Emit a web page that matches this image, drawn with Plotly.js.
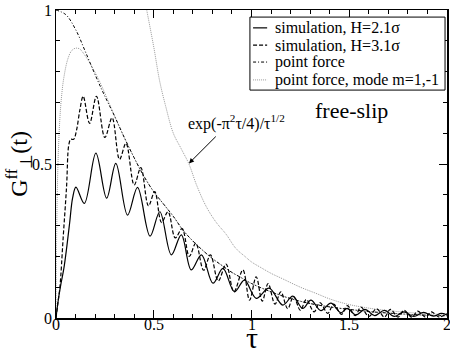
<!DOCTYPE html>
<html>
<head>
<meta charset="utf-8">
<script src="https://cdn.plot.ly/plotly-3.0.1.min.js"></script>
<style>html,body{margin:0;padding:0;background:#fff;}#chart{width:450px;height:356px;}</style>
</head>
<body>
<div id="chart"></div>
<script>
// simulation, H=2.1σ (solid)
const simA_t = [0,0.012,0.025,0.04,0.055,0.07,0.085,0.102,0.145,0.204,0.259,0.306,0.366,0.417,0.481,0.531,0.59,0.641,0.692,0.744,0.803,0.854,0.913,0.964,1.024,1.09,1.16,1.211,1.262,1.304,1.355,1.406,1.457,1.49,1.534,1.58,1.63,1.68,1.73,1.78,1.83,1.88,1.93,1.97,2.0];
const simA_g = [0,0.06,0.11,0.16,0.23,0.31,0.39,0.425,0.372,0.535,0.389,0.502,0.334,0.424,0.266,0.345,0.205,0.27,0.156,0.205,0.113,0.161,0.085,0.123,0.064,0.097,0.042,0.071,0.031,0.058,0.024,0.048,0.017,0.031,0.01,0.028,0.008,0.025,0.005,0.02,0.005,0.018,0.006,0.015,0.01];
// simulation, H=3.1σ (dashed)
const simB_t = [0,0.01,0.02,0.037,0.054,0.065,0.075,0.09,0.105,0.122,0.139,0.172,0.207,0.25,0.287,0.325,0.358,0.4,0.434,0.473,0.505,0.54,0.573,0.61,0.645,0.682,0.715,0.755,0.79,0.83,0.87,0.91,0.956,0.99,1.024,1.055,1.085,1.12,1.15,1.185,1.215,1.25,1.28,1.32,1.35,1.39,1.42,1.46,1.49,1.53,1.56,1.6,1.64,1.68,1.71,1.75,1.78,1.82,1.85,1.89,1.92,1.96,2.0];
const simB_g = [0,0.05,0.10,0.264,0.426,0.56,0.58,0.58,0.61,0.675,0.72,0.632,0.72,0.586,0.65,0.515,0.567,0.432,0.488,0.364,0.41,0.31,0.345,0.26,0.29,0.20,0.243,0.155,0.205,0.12,0.175,0.085,0.156,0.058,0.134,0.055,0.112,0.045,0.085,0.03,0.07,0.025,0.06,0.02,0.05,0.015,0.045,0.012,0.04,0.008,0.035,0.005,0.03,0.003,0.028,0.003,0.025,0.003,0.022,0.003,0.02,0.003,0.015];
// point force (dash-dot)
const pf_t = [0,0.05,0.1,0.15,0.2,0.25,0.3,0.35,0.4,0.45,0.5,0.55,0.6,0.65,0.7,0.75,0.8,0.85,0.9,0.95,1.0,1.1,1.2,1.3,1.4,1.5,1.6,1.7,1.8,1.9,2.0];
const pf_g = [1,0.985,0.937,0.865,0.79,0.72,0.655,0.585,0.52,0.46,0.41,0.37,0.33,0.285,0.25,0.22,0.193,0.17,0.148,0.13,0.112,0.085,0.063,0.047,0.036,0.028,0.021,0.016,0.012,0.009,0.007];
// point force, mode m=1,-1 (gray dotted)
const mode_t = [0,0.004,0.01,0.02,0.03,0.04,0.06,0.08,0.1,0.12,0.14,0.18,0.22,0.26,0.3,0.35,0.4,0.45,0.5,0.55,0.6,0.65,0.7,0.75,0.8,0.85,0.9,0.95,1.0,1.1,1.2,1.3,1.4,1.5,1.6,1.7,1.8,1.9,2.0];
const mode_g = [0,0.3,0.5,0.65,0.73,0.78,0.84,0.868,0.876,0.874,0.86,0.82,0.772,0.715,0.655,0.585,0.52,0.46,0.41,0.37,0.33,0.285,0.25,0.22,0.193,0.17,0.148,0.13,0.112,0.085,0.063,0.047,0.036,0.028,0.021,0.016,0.012,0.009,0.007];
// exp(-π²τ/4)/τ^{1/2} (gray dotted)
const asym_t = [0.455,0.464,0.5,0.53,0.56,0.6,0.64,0.68,0.72,0.77,0.82,0.87,0.92,0.97,1.0,1.05,1.1,1.16,1.25,1.33,1.4,1.49,1.6,1.7,1.8,1.9,2.0];
const asym_g = [1.03,1.0,0.88,0.77,0.69,0.6,0.55,0.5,0.43,0.36,0.31,0.272,0.226,0.198,0.182,0.163,0.145,0.127,0.1,0.08,0.062,0.045,0.032,0.024,0.018,0.014,0.011];

const legendNames = ["simulation, H=2.1σ","simulation, H=3.1σ","point force","point force, mode m=1,-1"];
const xTickVals = [0,0.5,1,1.5,2];
const xTickText = ["0","0.5","1","1.5","2"];
const yTickVals = [0,0.5,1];
const yTickText = ["0","0.5","1"];
const xTitle = 'τ';
const yTitle = 'G<sup>ff</sup><sub>⊥</sub>(t)';

const serif = 'Liberation Serif';

const styles = [
  {color:'#000', width:1.2, dash:'solid'},
  {color:'#000', width:1.2, dash:'4px,2px'},
  {color:'#000', width:1, dash:'3px,2px,1px,2px'},
  {color:'#999', width:1, dash:'1px,1px'}
];

const traces = [
  {x: asym_t, y: asym_g, mode:'lines', line:{color:'#999', width:1, dash:'1px,1px', shape:'spline'}, showlegend:false},
  {x: mode_t, y: mode_g, mode:'lines', name: legendNames[3], line:Object.assign({shape:'spline'}, styles[3]), showlegend:false},
  {x: pf_t, y: pf_g, mode:'lines', name: legendNames[2], line:Object.assign({shape:'spline'}, styles[2]), showlegend:false},
  {x: simB_t, y: simB_g, mode:'lines', name: legendNames[1], line:Object.assign({shape:'spline'}, styles[1]), showlegend:false},
  {x: simA_t, y: simA_g, mode:'lines', name: legendNames[0], line:Object.assign({shape:'spline'}, styles[0]), showlegend:false}
];

// custom legend (paper coords)
const legRows = [0.942, 0.886, 0.831, 0.773];
const shapes = [
  {type:'rect', xref:'paper', yref:'paper', x0:0.496, x1:0.995, y0:0.740, y1:0.977,
   line:{color:'#000', width:1}, fillcolor:'#fff', layer:'above'}
];
const annotations = [];
legendNames.forEach((nm, i) => {
  shapes.push({type:'line', xref:'paper', yref:'paper', x0:0.504, x1:0.540, y0:legRows[i], y1:legRows[i],
    line:{color:styles[i].color, width:styles[i].width, dash:styles[i].dash}, layer:'above'});
  annotations.push({xref:'paper', yref:'paper', x:0.556, y:legRows[i], xanchor:'left', yanchor:'middle',
    text:nm, showarrow:false, font:{family:serif, size:16, color:'#000'}});
});
// tick labels as serif text
xTickVals.forEach((v, i) => {
  annotations.push({xref:'x', yref:'paper', x:v, y:-0.022, xanchor:'center', yanchor:'middle',
    text:xTickText[i], showarrow:false, font:{family:serif, size:16, color:'#000'}});
});
yTickVals.forEach((v, i) => {
  annotations.push({xref:'paper', yref:'y', x:-0.006, y:v, xanchor:'right', yanchor:'middle',
    text:yTickText[i], showarrow:false, font:{family:serif, size:16, color:'#000'}});
});
annotations.push(
  {xref:'x', yref:'paper', x:1.0, y:-0.124, xanchor:'center', yanchor:'bottom',
   text:xTitle, showarrow:false, font:{family:serif, size:30, color:'#000'}},
  {xref:'paper', yref:'paper', x:-0.095, y:0.5, xanchor:'center', yanchor:'middle', textangle:-90,
   text:yTitle, showarrow:false, font:{family:serif, size:24, color:'#000'}},
  {x:0.68, y:0.502, xref:'x', yref:'y', ax:0.825, ay:0.594, axref:'x', ayref:'y',
   showarrow:true, arrowhead:2, arrowsize:1, arrowwidth:1, arrowcolor:'#000', text:''},
  {x:0.923, y:0.636, xref:'x', yref:'y', text:'exp(-π<sup>2</sup>τ/4)/τ<sup>1/2</sup>', showarrow:false,
   font:{family: serif, size:16, color:'#000'}},
  {x:1.51, y:0.675, xref:'x', yref:'y', text:'free-slip', showarrow:false,
   font:{family: serif, size:22, color:'#000'}}
);

const layout = {
  width: 450, height: 356,
  margin: {l:56, r:3, t:10, b:38},
  paper_bgcolor:'#fff', plot_bgcolor:'#fff',
  font: {family: serif, color:'#000', size:16},
  showlegend: false,
  xaxis: {
    range:[0,2], tickvals:xTickVals, showticklabels:false,
    ticks:'inside', ticklen:8, tickwidth:1, tickcolor:'#000',
    minor:{dtick:0.1, ticks:'inside', ticklen:4, tickcolor:'#000', showgrid:false},
    showline:true, linecolor:'#000', linewidth:1.5, mirror:'allticks',
    showgrid:false, zeroline:false
  },
  yaxis: {
    range:[0,1], tickvals:yTickVals, showticklabels:false,
    ticks:'inside', ticklen:8, tickwidth:1, tickcolor:'#000',
    minor:{dtick:0.1, ticks:'inside', ticklen:4, tickcolor:'#000', showgrid:false},
    showline:true, linecolor:'#000', linewidth:1.5, mirror:'allticks',
    showgrid:false, zeroline:false
  },
  shapes: shapes,
  annotations: annotations
};

Plotly.newPlot('chart', traces, layout, {displayModeBar:false, staticPlot:true});
</script>
</body>
</html>
